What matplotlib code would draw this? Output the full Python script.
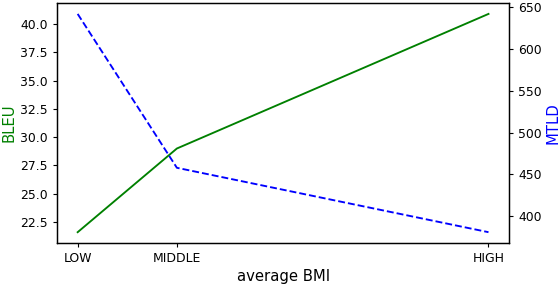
import matplotlib
matplotlib.use('Agg')
import matplotlib.pyplot as plt
from matplotlib.ticker import MultipleLocator, FormatStrFormatter

# BMI groups (x placed by representative BMI value)
bmi_labels = ['LOW', 'MIDDLE', 'HIGH']
bmi_pos = [18.5, 24.9, 45.0]
bleu = [21.6, 29.0, 40.9]
mtld = [642, 458, 381]

plt.rcParams['xtick.labelsize'] = 8.9
plt.rcParams['ytick.labelsize'] = 8.9
plt.rcParams['xtick.major.size'] = 3.1
plt.rcParams['ytick.major.size'] = 3.1
plt.rcParams['axes.linewidth'] = 0.9

fig, ax = plt.subplots(figsize=(5.6, 2.86), dpi=100)
fig.subplots_adjust(left=0.102, right=0.909, top=0.9895, bottom=0.150)

ax.plot(bmi_pos, bleu, color='green', linestyle='-', linewidth=1.35)
ax.set_ylabel('BLEU', color='green', fontsize=10.7, labelpad=3)
ax.set_xlabel('average BMI', fontsize=10.7, labelpad=3)
ax.set_xticks(bmi_pos)
ax.set_xticklabels(bmi_labels)
ax.yaxis.set_major_locator(MultipleLocator(2.5))
ax.yaxis.set_major_formatter(FormatStrFormatter('%.1f'))

ax2 = ax.twinx()
ax2.plot(bmi_pos, mtld, color='blue', linestyle='--', linewidth=1.35)
ax2.set_ylabel('MTLD', color='blue', fontsize=10.7, labelpad=3)

plt.savefig('out.png', dpi=100)
